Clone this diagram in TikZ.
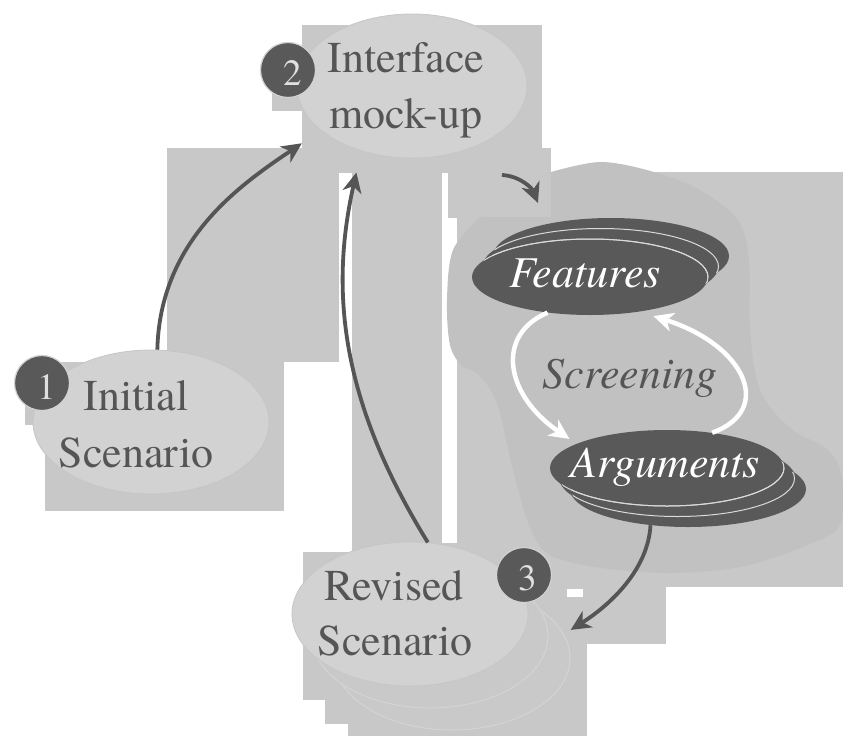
\documentclass[tikz,border=0pt]{standalone}
\usepackage{fontspec}
\setmainfont{texgyretermes}[Extension=.otf, UprightFont=*-regular, ItalicFont=*-italic, BoldFont=*-bold, BoldItalicFont=*-bolditalic]
\usetikzlibrary{arrows.meta,shapes.geometric}
\definecolor{rectgray}{HTML}{C8C8C8}
\definecolor{blobgray}{HTML}{C1C1C1}
\definecolor{lightell}{HTML}{D2D2D2}
\definecolor{lightedge}{HTML}{C6C6C6}
\definecolor{stackfill}{HTML}{C9C9C9}
\definecolor{stackedge}{HTML}{D4D4D4}
\definecolor{darkell}{HTML}{595959}
\definecolor{darkedge}{HTML}{DADADA}
\definecolor{inkgray}{HTML}{555555}
\definecolor{digitgray}{HTML}{E0E0E0}
\begin{document}
\begin{tikzpicture}[x=1pt,y=-1pt,
  bgrect/.style={fill=rectgray},
  lightnode/.style={ellipse, fill=lightell, draw=lightedge, line width=0.8pt, minimum width=236pt, minimum height=144pt, inner sep=0pt},
  stacknode/.style={ellipse, fill=stackfill, draw=stackedge, line width=1pt, minimum width=236pt, minimum height=144pt, inner sep=0pt},
  darkback/.style={ellipse, fill=darkell, minimum width=236pt, minimum height=76pt, inner sep=0pt},
  darkline/.style={draw=darkedge, line width=1pt},
  badge/.style={circle, fill=darkell, draw=lightell, line width=1.2pt, minimum size=55pt, inner sep=0pt},
  digit/.style={font=\fontsize{37}{37}\selectfont, text=digitgray, inner sep=0pt, anchor=base},
  lbl/.style={font=\fontsize{44}{56}\selectfont, text=inkgray, inner sep=0pt, anchor=base},
  dlbl/.style={font=\fontsize{44}{56}\selectfont\itshape, text=white, inner sep=0pt, anchor=base},
  conn/.style={draw=inkgray, line width=3.8pt, -{Stealth[length=20pt,width=19pt,inset=6pt]}},
  wconn/.style={draw=white, line width=4.5pt, -{Stealth[length=20pt,width=19pt,inset=6pt]}},
]
\useasboundingbox (0,0) rectangle (843,736);
\fill[white] (0,0) rectangle (843,736);

% background rectangles
\fill[bgrect] (302,25) rectangle (542,173);
\fill[bgrect] (272,53) rectangle (302,111);
\fill[bgrect] (167,148) rectangle (339,362);
\fill[bgrect] (339,148) rectangle (551,173);
\fill[bgrect] (352,173) rectangle (442,552);
\fill[bgrect] (448,173) rectangle (551,218);
\fill[bgrect] (457,172) rectangle (843,587);
\fill[bgrect] (45,362) rectangle (284,511);
\fill[bgrect] (25,362) rectangle (83,425);
\fill[bgrect] (303,552) rectangle (508,700);
\fill[bgrect] (442,543) rectangle (508,552);
\fill[bgrect] (508,541) rectangle (583,616);
\fill[bgrect] (583,541) rectangle (666,644);
\fill[bgrect] (508,613) rectangle (587,736);
\fill[bgrect] (325,700) rectangle (587,724);
\fill[bgrect] (348,724) rectangle (587,736);
\fill[white] (567,589) rectangle (583,597);

% blob behind Features / Arguments
\fill[blobgray] (480,217) -- (551,217) -- (551,172)
  plot[smooth, tension=0.55] coordinates {(551,172) (601,162) (654,172) (700,190) (738,220) (749,260) (750,330) (760,390) (790,428) (828,450) (842,478) (840,525) (805,546) (740,567) (666,573) (595,567) (550,555) (531,530) (515,478) (499,410) (488,386) (475,372) (462,366) (450,345) (447,300) (453,250) (480,217)} -- cycle;

% Revised scenario stack
\node[stacknode] (r3c) at (452,658) {};
\node[stacknode] (r3b) at (430,636) {};
\node[lightnode] (i3) at (410,614) {};
% Initial and Interface
\node[lightnode] (i1) at (151,422) {};
\node[lightnode, minimum width=230pt] (i2) at (412,86) {};

% Features stack
\node[darkback] (fb) at (611,256) {};
\node[darkback] (fm) at (600.5,266.5) {};
\begin{scope}
  \clip (fb.center) ellipse [x radius=118pt, y radius=38pt];
  \draw[darkline] (fm.center) ellipse [x radius=118pt, y radius=38pt];
\end{scope}
\node[darkback] (f) at (590,277) {};
\begin{scope}
  \clip (fb.center) ellipse [x radius=118pt, y radius=38pt];
  \draw[darkline] (f.center) ellipse [x radius=118pt, y radius=38pt];
\end{scope}
\begin{scope}
  \clip (fm.center) ellipse [x radius=118pt, y radius=38pt];
  \draw[darkline] (f.center) ellipse [x radius=118pt, y radius=38pt];
\end{scope}

% Arguments stack
\node[darkback] (ab) at (688,489) {};
\node[darkback] (am) at (677.5,478.5) {};
\begin{scope}
  \clip (ab.center) ellipse [x radius=117pt, y radius=38pt];
  \draw[darkline] (am.center) ellipse [x radius=117pt, y radius=38pt];
\end{scope}
\node[darkback, minimum width=234pt] (a) at (667,468) {};
\begin{scope}
  \clip (ab.center) ellipse [x radius=117pt, y radius=38pt];
  \draw[darkline] (a.center) ellipse [x radius=117pt, y radius=38pt];
\end{scope}
\begin{scope}
  \clip (am.center) ellipse [x radius=117pt, y radius=38pt];
  \draw[darkline] (a.center) ellipse [x radius=117pt, y radius=38pt];
\end{scope}

% badges
\node[badge] (b1) at (42,383) {};
\node[badge] (b2) at (288,70) {};
\node[badge] (b3) at (524,575) {};
\node[digit] (b1n) at (47,399) {1};
\node[digit] (b2n) at (293,85) {2};
\node[digit] (b3n) at (528,590) {3};

% connectors
\draw[conn, shorten >=23pt] (i1.85) .. controls (160,240) and (240,185) .. (i2.206);
\draw[conn, shorten >=22pt] (i3.76) .. controls (340,400) and (330,290) .. (i2.232);
\coordinate (a3s) at (502,175);
\coordinate (a3e) at (538,203);
\draw[conn] (a3s) .. controls (520,176) and (532,188) .. (a3e);
\draw[conn, shorten >=8pt] (ab.224) .. controls (648,570) and (610,605) .. (r3c.12);
\draw[wconn, shorten >=8.5pt] (f.220) .. controls (495,335) and (505,395) .. (a.165);
\draw[wconn, shorten >=14.5pt] (a.38) .. controls (775,410) and (745,345) .. (f.325);

% labels
\node[lbl] (t2a) at (406,72) {Interface};
\node[lbl] (t2b) at (406,128) {mock-up};
\node[lbl] (t1a) at (136,410) {Initial};
\node[lbl] (t1b) at (136,467) {Scenario};
\node[lbl] (t3a) at (394,600) {Revised};
\node[lbl] (t3b) at (395,655) {Scenario};
\node[dlbl] (tf) at (585,287) {Features};
\node[dlbl] (ta) at (665,477) {Arguments};
\node[lbl, font=\fontsize{44}{56}\selectfont\itshape] (ts) at (630,388) {Screening};
\end{tikzpicture}
\end{document}
